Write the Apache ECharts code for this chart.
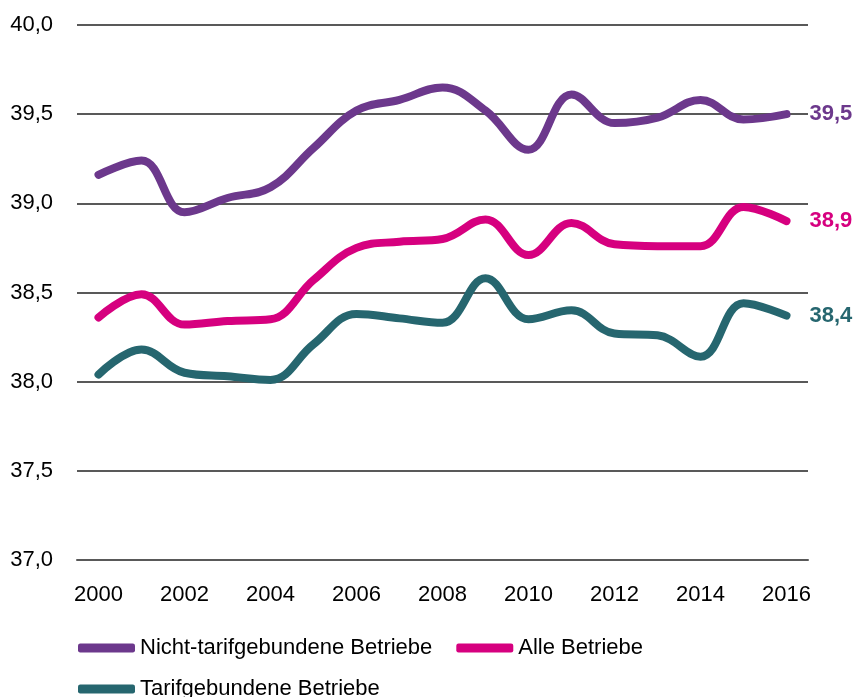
<!DOCTYPE html>
<html>
<head>
<meta charset="utf-8">
<script src="https://cdn.jsdelivr.net/npm/echarts@6/dist/echarts.min.js"></script>
<style>
html,body{margin:0;padding:0;background:#fff;}
#chart{width:853px;height:697px;}
</style>
</head>
<body>
<div id="chart"></div>
<script>
const years = ['2000','2001','2002','2003','2004','2005','2006','2007','2008','2009','2010','2011','2012','2013','2014','2015','2016'];
const nichtTarif = [39.16,39.24,38.95,39.03,39.09,39.31,39.52,39.58,39.65,39.52,39.30,39.61,39.45,39.48,39.58,39.47,39.50];
const alle = [38.36,38.49,38.32,38.34,38.35,38.57,38.75,38.785,38.80,38.91,38.71,38.89,38.77,38.76,38.76,38.98,38.90];
const tarif = [38.04,38.18,38.05,38.03,38.01,38.21,38.38,38.355,38.33,38.58,38.35,38.40,38.27,38.26,38.14,38.44,38.37];
const endLabels = ['39,5','38,9','38,4'];
const names = ['Nicht-tarifgebundene Betriebe','Alle Betriebe','Tarifgebundene Betriebe'];
const colors = ['#6C388C','#D6007F','#26666F'];
const seriesData = [nichtTarif, alle, tarif];

const FONT = "'Liberation Sans Narrow','Arial Narrow','Liberation Sans',Arial,sans-serif";
const chart = echarts.init(document.getElementById('chart'), null, {renderer:'canvas'});

const series = seriesData.map((d,i)=>({
  name: names[i],
  type: 'line',
  data: d,
  smooth: 0.4,
  symbol: 'none',
  color: colors[i],
  lineStyle: {width: 8, color: colors[i], cap: 'round', join: 'round'},
  endLabel: {
    show: true,
    formatter: () => endLabels[i],
    color: colors[i],
    fontFamily: FONT,
    fontWeight: 'bold',
    fontSize: 22,
    distance: 23,
    padding: [3,0,0,0]
  },
  emphasis: {disabled: true},
  z: 3 - i
}));

const legendCommon = {
  left: 78,
  padding: 0,
  itemWidth: 57,
  itemHeight: 9,
  itemGap: 24,
  icon: 'roundRect',
  selectedMode: false,
  textStyle: {fontFamily: FONT, fontSize: 22, color: '#000'},
  orient: 'horizontal'
};

chart.setOption({
  animation: false,
  backgroundColor: '#fff',
  grid: {left: 77, right: 45, top: 25, bottom: 137},
  legend: [
    Object.assign({}, legendCommon, {top: 637, data: [names[0], names[1]]}),
    Object.assign({}, legendCommon, {top: 678, data: [names[2]]})
  ],
  xAxis: {
    type: 'category',
    data: years,
    boundaryGap: true,
    axisTick: {show: false},
    axisLine: {show: true, lineStyle: {color: '#595959', width: 2}},
    axisLabel: {interval: 1, fontFamily: FONT, fontSize: 22, color: '#000', margin: 24}
  },
  yAxis: {
    type: 'value',
    min: 37, max: 40, interval: 0.5,
    axisLine: {show: false},
    axisTick: {show: false},
    splitLine: {show: true, lineStyle: {color: '#595959', width: 2}},
    axisLabel: {fontFamily: FONT, fontSize: 22, color: '#000', margin: 24, padding: [5,0,0,0],
      formatter: v => v.toFixed(1).replace('.', ',')}
  },
  series: series
});
</script>
</body>
</html>
